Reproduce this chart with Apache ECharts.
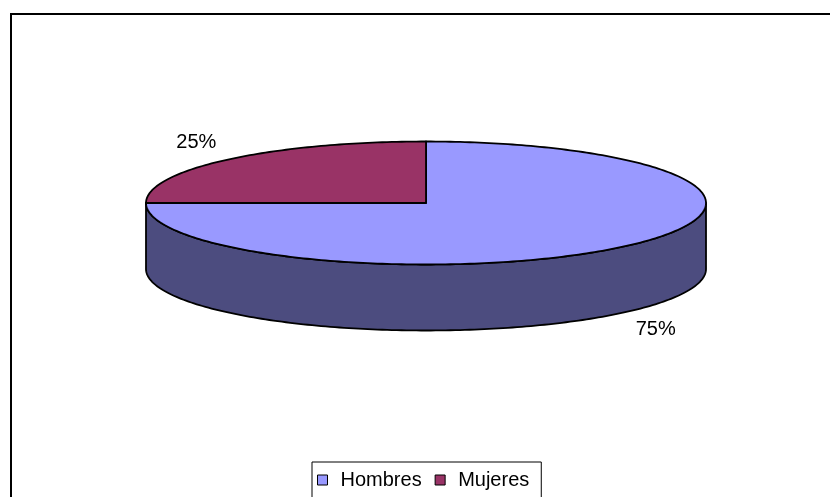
<!DOCTYPE html>
<html>
<head>
<meta charset="utf-8">
<script src="https://cdn.jsdelivr.net/npm/echarts@6/dist/echarts.min.js"></script>
<style>
  html, body { margin: 0; padding: 0; background: #fff; }
  #chart { width: 830px; height: 497px; }
</style>
</head>
<body>
<div id="chart"></div>
<script>
// datos
const categories = ['Hombres', 'Mujeres'];
const values = [75, 25];

// estilos
const topColors = ['#9999FF', '#993366'];
const sideColors = ['#4C4C7F', '#4D1A33'];
const FONT = "'Liberation Sans', Arial, sans-serif";

// geometria del pastel 3D
const CX = 426, CY = 203, RX = 280, RY = 61.5, DEPTH = 66;
const START = 90; // empieza arriba y va en sentido horario

const total = values.reduce((a, b) => a + b, 0);

const pt = (deg, dy) => {
  const r = deg * Math.PI / 180;
  return [CX + RX * Math.cos(r), CY - RY * Math.sin(r) + (dy || 0)];
};

const arc = (from, to, dy) => {
  const pts = [];
  const n = Math.max(2, Math.ceil(Math.abs(to - from)));
  for (let k = 0; k <= n; k++) pts.push(pt(from + (to - from) * k / n, dy));
  return pts;
};

const renderSlice = (params, api) => {
  const i = params.seriesIndex;
  let cum = 0;
  for (let k = 0; k < i; k++) cum += values[k];
  const v = api.value(0);
  const a0 = START - 360 * cum / total;
  const a1 = START - 360 * (cum + v) / total;
  const children = [];

  // cara lateral (solo la mitad delantera)
  for (let k = -2; k <= 1; k++) {
    const lo = Math.max(a1, -180 + 360 * k);
    const hi = Math.min(a0, 360 * k);
    if (hi > lo) {
      const pts = arc(hi, lo, 0).concat(arc(lo, hi, DEPTH));
      children.push({
        type: 'polygon',
        z2: 1,
        shape: { points: pts },
        style: { fill: sideColors[i], stroke: '#000', lineWidth: 1.8, lineJoin: 'round' }
      });
    }
  }

  // cara superior
  children.push({
    type: 'polygon',
    z2: 5,
    shape: { points: [[CX, CY]].concat(arc(a0, a1, 0)) },
    style: { fill: topColors[i], stroke: '#000', lineWidth: 1.8, lineJoin: 'round' }
  });

  // etiqueta de porcentaje
  const mid = (a0 + a1) / 2 * Math.PI / 180;
  const s = Math.sin(mid);
  children.push({
    type: 'text',
    z2: 10,
    x: CX + RX * 1.16 * Math.cos(mid),
    y: CY - RY * 1.40 * s + (s < 0 ? DEPTH : 0),
    style: {
      text: Math.round(v / total * 100) + '%',
      fill: '#000',
      font: '20px ' + FONT,
      align: 'center',
      verticalAlign: 'middle'
    }
  });

  return { type: 'group', children: children };
};

const chart = echarts.init(document.getElementById('chart'));

chart.setOption({
  animation: false,
  graphic: [{
    type: 'rect',
    shape: { x: 11, y: 14, width: 900, height: 600 },
    style: { fill: 'none', stroke: '#000', lineWidth: 2 }
  }],
  legend: {
    data: categories,
    left: 312,
    top: 462,
    icon: 'rect',
    itemWidth: 10,
    itemHeight: 10,
    itemGap: 13,
    padding: [8, 12, 30, 5],
    borderColor: '#000',
    borderWidth: 1,
    borderRadius: 0,
    selectedMode: false,
    itemStyle: { borderColor: '#000', borderWidth: 1 },
    textStyle: { fontFamily: FONT, fontSize: 20, color: '#000', padding: [0, 0, 0, 8] }
  },
  series: categories.map((name, i) => ({
    type: 'custom',
    name: name,
    coordinateSystem: 'none',
    itemStyle: { color: topColors[i] },
    renderItem: renderSlice,
    data: [values[i]]
  }))
});

window.addEventListener('resize', () => chart.resize());
</script>
</body>
</html>
